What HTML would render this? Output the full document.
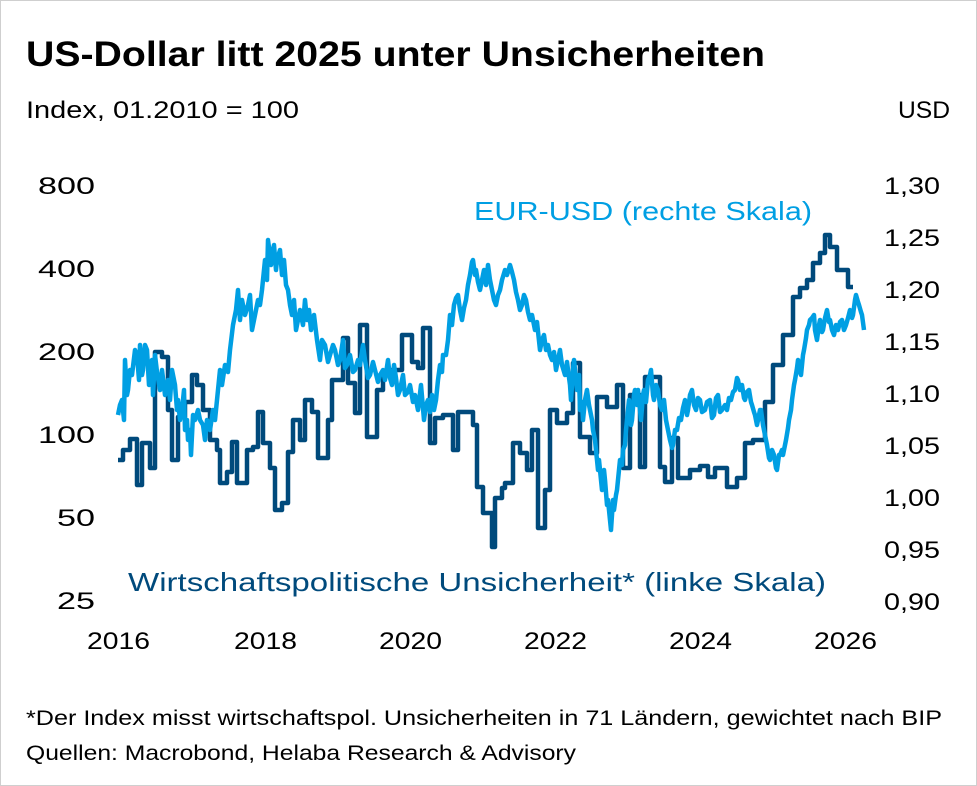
<!DOCTYPE html><html><head><meta charset="utf-8"><style>
html,body{margin:0;padding:0;background:#fff}
body{width:977px;height:786px;position:relative;overflow:hidden;font-family:"Liberation Sans","DejaVu Sans",sans-serif}
.frame{position:absolute;left:0;top:0;width:975px;height:784px;border:1px solid #cfcfcf}
</style></head><body><div class="frame"></div>
<svg width="977" height="786" style="position:absolute;left:0;top:0" font-family="Liberation Sans, DejaVu Sans, sans-serif">
<text x="26" y="66" font-size="35" font-weight="bold" fill="#000" textLength="739" lengthAdjust="spacingAndGlyphs">US-Dollar litt 2025 unter Unsicherheiten</text>
<text x="26" y="118" font-size="24" fill="#000" textLength="273" lengthAdjust="spacingAndGlyphs">Index, 01.2010 = 100</text>
<text x="950" y="118" font-size="24" fill="#000" text-anchor="end" textLength="52" lengthAdjust="spacingAndGlyphs">USD</text>
<g font-size="24" fill="#000" text-anchor="end" lengthAdjust="spacingAndGlyphs">
<text x="95" y="194" textLength="57" lengthAdjust="spacingAndGlyphs">800</text><text x="95" y="277" textLength="57" lengthAdjust="spacingAndGlyphs">400</text><text x="95" y="360" textLength="57" lengthAdjust="spacingAndGlyphs">200</text><text x="95" y="443" textLength="57" lengthAdjust="spacingAndGlyphs">100</text><text x="95" y="526" textLength="38" lengthAdjust="spacingAndGlyphs">50</text><text x="95" y="609" textLength="38" lengthAdjust="spacingAndGlyphs">25</text>
</g>
<g font-size="24" fill="#000">
<text x="884" y="194" textLength="56" lengthAdjust="spacingAndGlyphs">1,30</text><text x="884" y="246" textLength="56" lengthAdjust="spacingAndGlyphs">1,25</text><text x="884" y="298" textLength="56" lengthAdjust="spacingAndGlyphs">1,20</text><text x="884" y="350" textLength="56" lengthAdjust="spacingAndGlyphs">1,15</text><text x="884" y="402" textLength="56" lengthAdjust="spacingAndGlyphs">1,10</text><text x="884" y="454" textLength="56" lengthAdjust="spacingAndGlyphs">1,05</text><text x="884" y="506" textLength="56" lengthAdjust="spacingAndGlyphs">1,00</text><text x="884" y="558" textLength="56" lengthAdjust="spacingAndGlyphs">0,95</text><text x="884" y="610" textLength="56" lengthAdjust="spacingAndGlyphs">0,90</text>
</g>
<g font-size="24" fill="#000">
<text x="87" y="649" textLength="63" lengthAdjust="spacingAndGlyphs">2016</text><text x="234" y="649" textLength="63" lengthAdjust="spacingAndGlyphs">2018</text><text x="379" y="649" textLength="63" lengthAdjust="spacingAndGlyphs">2020</text><text x="524" y="649" textLength="63" lengthAdjust="spacingAndGlyphs">2022</text><text x="669" y="649" textLength="63" lengthAdjust="spacingAndGlyphs">2024</text><text x="814" y="649" textLength="63" lengthAdjust="spacingAndGlyphs">2026</text>
</g>
<text x="474" y="220" font-size="26" fill="#009fe3" textLength="338" lengthAdjust="spacingAndGlyphs">EUR-USD (rechte Skala)</text>
<text x="128" y="591" font-size="26" fill="#004a7c" textLength="698" lengthAdjust="spacingAndGlyphs">Wirtschaftspolitische Unsicherheit* (linke Skala)</text>
<polyline fill="none" stroke="#004a7c" stroke-width="4.5" stroke-linejoin="round" points="118,460 123,460 123,450 130,450 130,439 137,439 137,485 142,485 142,443 150,443 150,468 155,468 155,352 162,352 162,357 168,357 168,410 172,410 172,460 178,460 178,417 185,417 185,402 192,402 192,375 197,375 197,385 203,385 203,410 210,410 210,440 217,440 217,450 220,450 220,483 227,483 227,472 232,472 232,442 237,442 237,483 247,483 247,450 253,450 253,447 258,447 258,412 263,412 263,443 270,443 270,468 275,468 275,510 282,510 282,503 288,503 288,452 293,452 293,420 300,420 300,440 305,440 305,400 312,400 312,412 318,412 318,458 328,458 328,420 332,420 332,380 343,380 343,338 348,338 348,383 355,383 355,413 360,413 360,325 367,325 367,437 377,437 377,390 383,390 383,372 392,372 392,370 402,370 402,335 412,335 412,362 418,362 418,368 423,368 423,328 430,328 430,443 435,443 435,418 443,418 443,415 453,415 453,450 458,450 458,412 473,412 473,425 477,425 477,487 483,487 483,513 492,513 492,547 495,547 495,498 502,498 502,488 505,488 505,483 513,483 513,443 520,443 520,453 527,453 527,470 532,470 532,430 538,430 538,528 545,528 545,490 550,490 550,410 557,410 557,423 567,423 567,413 573,413 573,363 580,363 580,437 590,437 590,453 597,453 597,397 607,397 607,407 617,407 617,385 623,385 623,468 630,468 630,395 640,395 640,467 645,467 645,377 660,377 660,467 665,467 665,482 672,482 672,438 678,438 678,478 690,478 690,470 700,470 700,466 708,466 708,477 715,477 715,468 727,468 727,487 737,487 737,478 745,478 745,443 753,443 753,440 765,440 765,402 773,402 773,365 783,365 783,335 793,335 793,297 800,297 800,288 807,288 807,280 813,280 813,263 820,263 820,253 825,253 825,235 830,235 830,247 837,247 837,270 848,270 848,287 853,287"/>
<polyline fill="none" stroke="#009fe3" stroke-width="4.5" stroke-linejoin="round" points="118,415 120,405 122,400 124,420 125,360 127,395 128,390 130,370 132,375 135,350 137,355 139,380 140,345 142,375 143,370 145,345 147,350 149,385 150,380 152,360 153,395 155,355 157,372 160,390 162,370 165,395 168,380 170,400 172,370 174,380 175,385 177,410 178,400 180,420 182,410 184,390 185,430 187,420 188,440 190,430 191,455 193,415 195,420 198,410 200,420 203,425 205,440 207,420 210,430 213,410 215,420 217,400 220,370 222,385 225,365 228,372 230,350 233,325 236,310 238,290 240,320 242,300 245,315 248,305 250,295 252,330 255,315 258,300 260,305 262,290 264,270 265,260 267,280 268,240 270,255 271,265 273,250 274,245 276,270 277,260 280,250 282,275 284,260 286,285 288,290 290,305 292,315 294,300 296,330 298,320 300,310 303,325 305,300 307,320 309,310 311,330 314,315 317,340 320,360 322,340 325,345 328,362 330,355 333,345 335,350 338,365 340,360 343,340 345,368 347,365 350,355 353,372 355,370 358,360 360,365 363,345 365,360 368,378 370,375 373,362 375,370 378,382 380,375 383,370 385,380 388,360 390,378 392,385 394,365 396,378 398,395 400,390 403,375 405,395 408,392 410,385 413,402 415,395 418,410 421,385 424,420 426,405 428,400 430,412 432,395 434,410 436,400 438,380 440,365 442,372 443,355 446,355 448,340 450,315 452,325 454,305 456,298 458,295 460,310 462,320 464,308 466,300 468,285 470,275 472,262 473,260 475,275 476,270 478,282 480,290 482,280 484,270 486,285 488,265 490,280 492,290 494,300 496,305 498,295 500,290 502,280 505,270 507,275 510,265 512,272 514,280 516,292 518,300 520,310 522,305 524,295 526,300 528,312 530,320 532,315 535,330 537,322 540,350 542,340 544,335 546,350 548,345 550,355 552,360 554,352 556,370 558,360 560,350 562,365 565,375 567,362 568,370 570,385 571,400 573,370 574,360 576,380 577,390 579,375 580,410 582,402 583,420 585,400 587,390 589,405 590,410 592,420 593,430 595,440 596,450 598,470 599,460 601,480 602,490 604,470 605,480 607,505 608,500 610,520 611,530 613,500 614,510 616,495 617,490 619,470 620,460 622,465 623,450 625,445 626,430 628,410 629,400 631,425 632,420 634,395 635,390 637,405 638,390 640,410 641,420 643,395 644,390 646,402 648,380 650,375 651,370 653,395 654,400 656,385 658,390 660,405 662,410 664,400 666,420 668,430 670,440 672,448 673,445 675,430 677,430 679,418 681,420 683,408 685,400 687,415 688,410 690,395 692,390 694,405 696,410 698,398 700,400 702,412 705,410 707,402 710,400 712,418 714,415 716,398 718,395 720,412 722,410 725,405 727,410 729,398 731,400 733,392 735,390 737,378 738,380 740,390 742,385 744,398 745,400 747,392 749,390 751,402 752,405 754,412 755,415 757,425 758,420 760,410 761,410 763,425 764,430 766,440 767,445 769,458 770,460 772,450 774,455 776,468 777,470 779,455 780,455 782,450 783,455 785,445 786,440 788,428 789,420 791,410 792,400 794,385 795,380 797,368 798,360 800,372 801,375 803,355 804,350 806,338 807,330 809,325 810,320 812,318 814,315 815,330 817,340 819,325 820,320 822,332 823,330 825,318 827,310 829,322 830,320 832,330 834,335 836,325 838,330 840,322 842,320 844,330 846,325 848,318 850,310 852,318 853,315 855,300 856,295 858,302 859,305 861,312 862,315 864,330"/>
<text x="26" y="725" font-size="21" fill="#000" textLength="916" lengthAdjust="spacingAndGlyphs">*Der Index misst wirtschaftspol. Unsicherheiten in 71 Ländern, gewichtet nach BIP</text>
<text x="26" y="760" font-size="21" fill="#000" textLength="550" lengthAdjust="spacingAndGlyphs">Quellen: Macrobond, Helaba Research &amp; Advisory</text>
</svg></body></html>
